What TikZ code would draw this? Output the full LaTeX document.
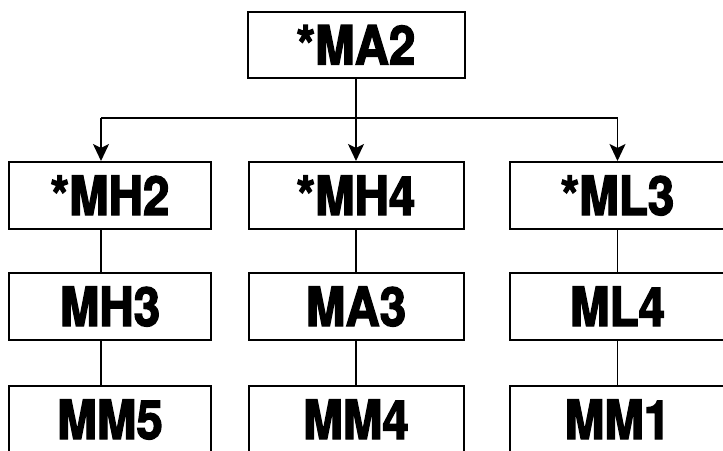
\documentclass[tikz,border=0pt]{standalone}
\usepackage{fontspec}
\newfontfamily\boxfont{TeX Gyre Heros}[BoldFeatures={FakeBold=2.5, FakeStretch=0.88}]
\usetikzlibrary{arrows.meta, positioning}

\begin{document}
\begin{tikzpicture}[x=1pt,y=-1pt,
  blk/.style={draw, line width=2pt, minimum width=215pt, minimum height=67pt,
    inner sep=0pt, text height=39pt, text depth=0pt,
    font=\boxfont\bfseries\fontsize{54}{60}\selectfont},
  link/.style={line width=1.9pt},
  arr/.style={line width=1.9pt, -{Stealth[length=17pt,width=16pt,inset=4pt]}}]
\useasboundingbox (0,0) rectangle (723,450);
\clip (0,0) rectangle (723,450);
% top box
\node[blk, minimum width=217pt, minimum height=66pt] (ma2) at (356,45) {*MA2};
% first row
\node[blk, minimum width=202pt] (mh2) at (110,195.5) {*MH2};
\node[blk] (mh4) at (356,195.5) {*MH4};
\node[blk] (ml3) at (617.5,195.5) {*ML3};
% second row
\node[blk, minimum width=202pt] (mh3) at (110,306.5) {MH3};
\node[blk] (ma3) at (356,306.5) {MA3};
\node[blk] (ml4) at (617.5,306.5) {ML4};
% third row
\node[blk, minimum width=202pt] (mm5) at (110,419.5) {MM5};
\node[blk] (mm4) at (356,419.5) {MM4};
\node[blk] (mm1) at (617.5,419.5) {MM1};
% left column line is off centre
\coordinate (mh2t) at ([xshift=-9pt]mh2.north);
\coordinate (mh2b) at ([xshift=-9pt]mh2.south);
\coordinate (mh3t) at ([xshift=-9pt]mh3.north);
\coordinate (mh3b) at ([xshift=-9pt]mh3.south);
\coordinate (mm5t) at ([xshift=-9pt]mm5.north);
% fork under the top box
\draw[link] (ma2.south) -- ++(0,39) coordinate (fork);
\draw[link] (mh2t |- fork) -- (ml3.north |- fork);
\draw[arr] (mh2t |- fork) -- (mh2t);
\draw[arr] (fork) -- (mh4.north);
\draw[arr] (ml3.north |- fork) -- (ml3.north);
% columns
\draw[link] (mh2b) -- (mh3t);
\draw[link] (mh3b) -- (mm5t);
\draw[link] (mh4.south) -- (ma3.north);
\draw[link] (ma3.south) -- (mm4.north);
\draw[link] (ml3.south) -- (ml4.north);
\draw[link] (ml4.south) -- (mm1.north);
\end{tikzpicture}
\end{document}
